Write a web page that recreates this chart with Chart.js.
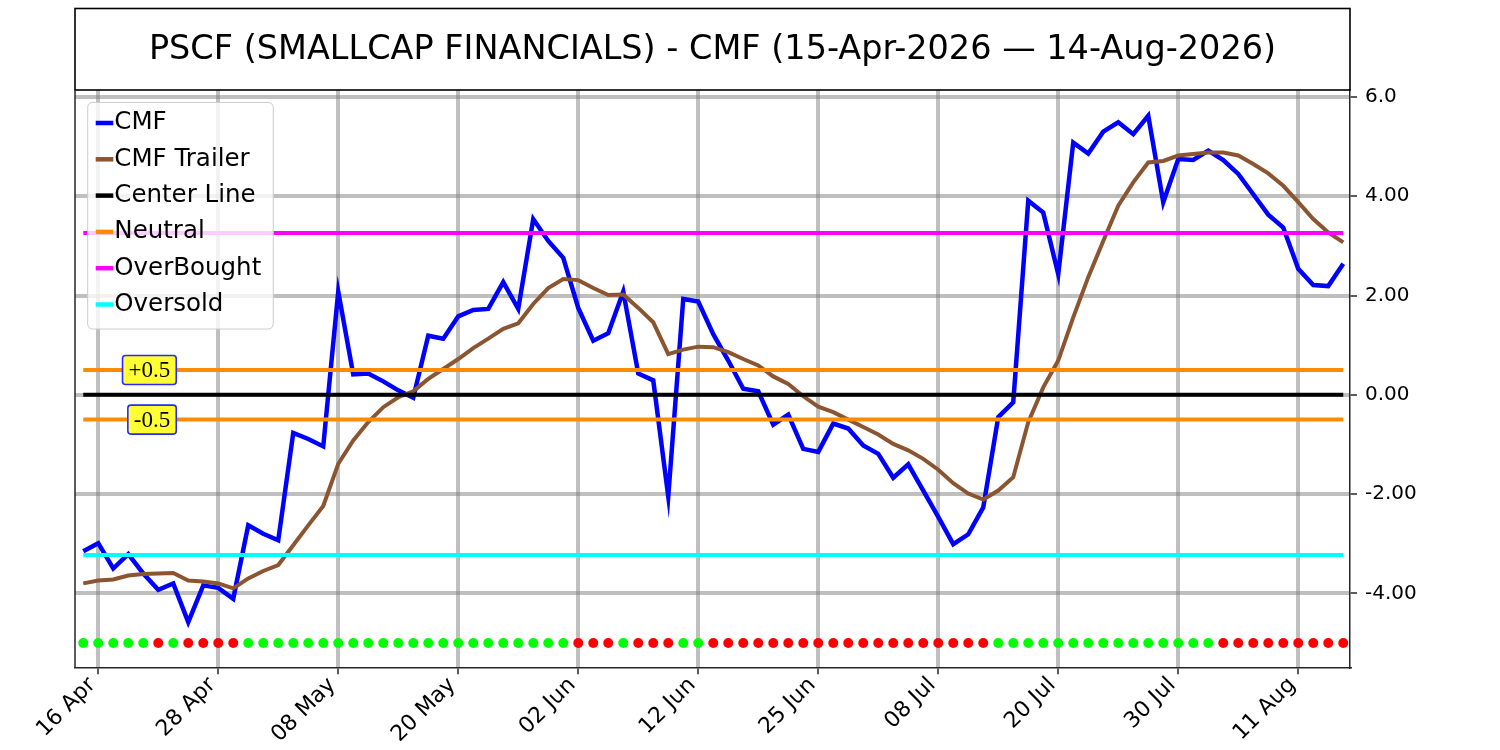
<!DOCTYPE html>
<html>
<head>
<meta charset="utf-8">
<script src="https://cdn.jsdelivr.net/npm/chart.js@4.4.1/dist/chart.umd.min.js"></script>
<style>
  html, body { margin: 0; padding: 0; background: #fff; }
  #wrap { width: 1500px; height: 750px; }
</style>
</head>
<body>
<div id="wrap"><canvas id="cmfChart" width="1500" height="750"></canvas></div>
<script>
// trading days 15 Apr 2026 .. 14 Aug 2026
const dates = [
  '15 Apr', '16 Apr', '17 Apr', '20 Apr', '21 Apr', '22 Apr', '23 Apr', '24 Apr', '27 Apr', '28 Apr', '29 Apr', '30 Apr',
  '01 May', '04 May', '05 May', '06 May', '07 May', '08 May', '11 May', '12 May', '13 May', '14 May', '15 May', '18 May',
  '19 May', '20 May', '21 May', '22 May', '26 May', '27 May', '28 May', '29 May',
  '01 Jun', '02 Jun', '03 Jun', '04 Jun', '05 Jun', '08 Jun', '09 Jun', '10 Jun', '11 Jun', '12 Jun', '15 Jun', '16 Jun',
  '17 Jun', '18 Jun', '22 Jun', '23 Jun', '24 Jun', '25 Jun', '26 Jun', '29 Jun', '30 Jun',
  '01 Jul', '02 Jul', '06 Jul', '07 Jul', '08 Jul', '09 Jul', '10 Jul', '13 Jul', '14 Jul', '15 Jul', '16 Jul', '17 Jul',
  '20 Jul', '21 Jul', '22 Jul', '23 Jul', '24 Jul', '27 Jul', '28 Jul', '29 Jul', '30 Jul', '31 Jul',
  '03 Aug', '04 Aug', '05 Aug', '06 Aug', '07 Aug', '10 Aug', '11 Aug', '12 Aug', '13 Aug', '14 Aug'
];

const cmf = [
  -3.15, -2.99, -3.50, -3.21, -3.60, -3.93, -3.80, -4.58, -3.84, -3.89, -4.11, -2.63,
  -2.80, -2.93, -0.77, -0.89, -1.04, 2.08, 0.41, 0.43, 0.27, 0.09, -0.06, 1.19,
  1.13, 1.58, 1.71, 1.73, 2.27, 1.73, 3.54, 3.10, 2.76, 1.75, 1.09, 1.24,
  2.08, 0.43, 0.29, -2.05, 1.93, 1.88, 1.22, 0.69, 0.12, 0.07, -0.60, -0.40,
  -1.09, -1.15, -0.58, -0.68, -1.02, -1.19, -1.67, -1.40, -1.93, -2.46, -3.01, -2.81,
  -2.27, -0.45, -0.15, 3.91, 3.67, 2.43, 5.08, 4.86, 5.30, 5.49, 5.25, 5.62,
  3.88, 4.75, 4.73, 4.92, 4.73, 4.45, 4.04, 3.63, 3.37, 2.54, 2.21, 2.19, 2.64
];

const cmfTrailer = [
  -3.80, -3.74, -3.72, -3.64, -3.61, -3.60, -3.59, -3.74, -3.76, -3.80, -3.90, -3.70,
  -3.55, -3.43, -3.03, -2.63, -2.24, -1.39, -0.92, -0.55, -0.25, -0.05, 0.07, 0.32,
  0.52, 0.72, 0.94, 1.13, 1.33, 1.44, 1.83, 2.15, 2.33, 2.31, 2.15, 2.01,
  2.02, 1.75, 1.46, 0.82, 0.91, 0.97, 0.96, 0.86, 0.72, 0.59, 0.37, 0.22,
  -0.03, -0.24, -0.35, -0.50, -0.65, -0.80, -0.99, -1.12, -1.29, -1.51, -1.78, -1.99,
  -2.11, -1.93, -1.66, -0.55, 0.15, 0.69, 1.56, 2.37, 3.10, 3.81, 4.28, 4.68,
  4.71, 4.82, 4.85, 4.88, 4.88, 4.82, 4.65, 4.46, 4.21, 3.88, 3.54, 3.27, 3.07
];

// 1 = green dot, -1 = red dot
const signal = [
  1, 1, 1, 1, 1, -1, 1, -1, -1, -1, -1, 1,
  1, 1, 1, 1, 1, 1, 1, 1, 1, 1, 1, 1,
  1, 1, 1, 1, 1, 1, 1, 1, 1, -1, -1, -1,
  1, -1, -1, -1, 1, 1, -1, -1, -1, -1, -1, -1,
  -1, -1, -1, -1, -1, -1, -1, -1, -1, -1, -1, -1,
  -1, 1, 1, 1, 1, 1, 1, 1, 1, 1, 1, 1,
  1, 1, 1, 1, -1, -1, -1, -1, -1, -1, -1, -1, -1
];

const xTickIdx = [1, 9, 17, 25, 33, 41, 49, 57, 65, 73, 81];
const yTicks = [-4, -2, 0, 2, 4, 6];

const centerLevel = 0;
const neutralLevel = 0.5;
const overBought = 3.26;
const overSold = -3.23;
const signalLevel = -5;

const xy = arr => arr.map((v, i) => ({ x: i, y: v }));
const flat = v => [{ x: 0, y: v }, { x: dates.length - 1, y: v }];

const FONT = 'DejaVu Sans';

const framePlugin = {
  id: 'frame',
  beforeDraw(chart) {
    const ctx = chart.ctx;
    ctx.save();
    ctx.fillStyle = '#fff';
    ctx.fillRect(0, 0, chart.width, chart.height);
    ctx.restore();
  },
  afterDatasetsDraw(chart) {
    const { ctx, scales } = chart;
    // +0.5 / -0.5 notes
    const notes = [
      { text: '+0.5', y: neutralLevel },
      { text: '-0.5', y: -neutralLevel }
    ];
    ctx.save();
    ctx.font = '23px "Liberation Serif"';
    ctx.textBaseline = 'middle';
    ctx.textAlign = 'right';
    notes.forEach(n => {
      const xr = scales.x.getPixelForValue(6.2);
      const yc = scales.y.getPixelForValue(n.y);
      const w = ctx.measureText(n.text).width;
      ctx.beginPath();
      ctx.roundRect(xr - w - 12, yc - 14.5, w + 12, 29, 3);
      ctx.fillStyle = '#ffff33';
      ctx.fill();
      ctx.lineWidth = 1.6;
      ctx.strokeStyle = '#2a2aff';
      ctx.stroke();
      ctx.fillStyle = '#000';
      ctx.fillText(n.text, xr - 6, yc + 1);
    });
    ctx.restore();
  },
  afterDraw(chart) {
    const { ctx, chartArea: a } = chart;
    ctx.save();
    // title box
    ctx.strokeStyle = '#000';
    ctx.lineWidth = 1.6;
    ctx.strokeRect(a.left, 8.5, a.right - a.left, a.top - 8.5);
    // left spine
    ctx.strokeStyle = '#262626';
    ctx.lineWidth = 1.5;
    ctx.beginPath();
    ctx.moveTo(a.left, a.top);
    ctx.lineTo(a.left, a.bottom);
    ctx.stroke();

    // legend
    const items = chart.data.datasets.filter(d => !d.noLegend);
    ctx.font = '24.5px "' + FONT + '"';
    const tw = Math.max(...items.map(d => ctx.measureText(d.label).width));
    const left = a.left + 12.7, top = a.top + 12.4;
    const rowH = 36.3;
    ctx.beginPath();
    ctx.roundRect(left, top, 26.6 + tw + 12, 226.6, 5);
    ctx.fillStyle = 'rgba(255,255,255,0.8)';
    ctx.fill();
    ctx.strokeStyle = '#cccccc';
    ctx.lineWidth = 1;
    ctx.stroke();
    ctx.textBaseline = 'middle';
    ctx.textAlign = 'left';
    items.forEach((d, k) => {
      const yy = top + 20.6 + k * rowH;
      ctx.strokeStyle = d.borderColor;
      ctx.lineWidth = 4.5;
      ctx.beginPath();
      ctx.moveTo(left + 8, yy);
      ctx.lineTo(left + 25.6, yy);
      ctx.stroke();
      ctx.fillStyle = '#000';
      ctx.fillText(d.label, left + 26.6, yy);
    });
    ctx.restore();
  }
};

const gridOpts = {
  color: 'rgba(128,128,128,0.5)',
  lineWidth: 4,
  tickColor: '#262626',
  tickWidth: 1.5,
  tickLength: 7
};

new Chart(document.getElementById('cmfChart'), {
  type: 'line',
  data: {
    datasets: [
      { label: 'CMF', data: xy(cmf), borderColor: '#0000ff', borderWidth: 4.5, order: 8 },
      { label: 'CMF Trailer', data: xy(cmfTrailer), borderColor: '#8a5530', borderWidth: 4, order: 7 },
      { label: 'Center Line', data: flat(centerLevel), borderColor: '#000000', borderWidth: 4, order: 6 },
      { label: 'Neutral', data: flat(neutralLevel), borderColor: '#ff8c00', borderWidth: 4, order: 5 },
      { label: 'Neutral', data: flat(-neutralLevel), borderColor: '#ff8c00', borderWidth: 4, order: 5, noLegend: true },
      { label: 'OverBought', data: flat(overBought), borderColor: '#ff00ff', borderWidth: 4, order: 4 },
      { label: 'Oversold', data: flat(overSold), borderColor: '#00ffff', borderWidth: 4, order: 3 },
      {
        label: 'Signal', data: signal.map((s, i) => ({ x: i, y: signalLevel })), noLegend: true,
        showLine: false, pointRadius: 5, pointBorderWidth: 0,
        pointBackgroundColor: signal.map(s => (s > 0 ? '#00ff00' : '#ff0000')), order: 1
      }
    ]
  },
  options: {
    responsive: false,
    animation: false,
    devicePixelRatio: 1,
    elements: { point: { radius: 0 }, line: { tension: 0 } },
    layout: { padding: { left: 75, top: 8.5, right: 0, bottom: 0 } },
    scales: {
      x: {
        type: 'linear',
        min: -0.55,
        max: 84.45,
        afterBuildTicks: s => { s.ticks = xTickIdx.map(v => ({ value: v })); },
        afterFit: s => { s.height = 82.7; },
        ticks: {
          callback: v => dates[v],
          autoSkip: false,
          minRotation: 45,
          maxRotation: 45,
          labelOffset: -6,
          color: '#000',
          padding: -2,
          font: { family: FONT, size: 22 }
        },
        grid: gridOpts,
        border: { display: true, color: '#262626', width: 1.5 }
      },
      y: {
        type: 'linear',
        position: 'right',
        min: -5.49,
        max: 6.14,
        afterBuildTicks: s => { s.ticks = yTicks.map(v => ({ value: v })); },
        afterFit: s => { s.width = 150; },
        ticks: {
          callback: v => (v === 6 ? v.toFixed(1) : v.toFixed(2)),
          color: '#000',
          padding: 8,
          font: { family: FONT, size: 20 }
        },
        grid: gridOpts,
        border: { display: true, color: '#262626', width: 1.5 }
      }
    },
    plugins: {
      legend: { display: false },
      tooltip: { enabled: false },
      title: {
        display: true,
        fullSize: false,
        text: 'PSCF (SMALLCAP FINANCIALS) - CMF (15-Apr-2026 \u2014 14-Aug-2026)',
        color: '#000',
        font: { family: FONT, size: 33.5, weight: 'normal', lineHeight: 1.2 },
        padding: { top: 22, bottom: 19.3 }
      }
    }
  },
  plugins: [framePlugin]
});
</script>
</body>
</html>
